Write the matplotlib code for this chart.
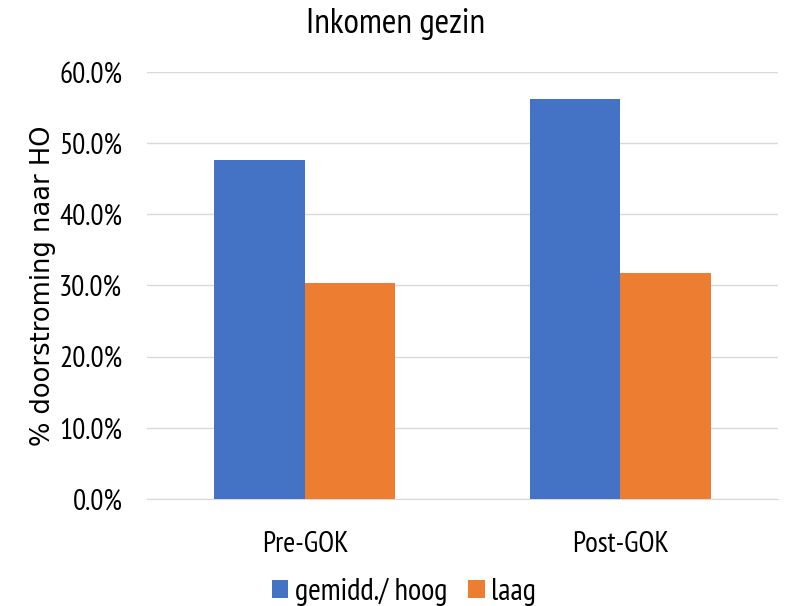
import numpy as np
import matplotlib.pyplot as plt
from matplotlib.ticker import PercentFormatter

categories = ['Pre-GOK', 'Post-GOK']
series_names = ['gemidd./ hoog', 'laag']
hoog = [47.6, 56.2]
laag = [30.4, 31.8]
colors = ['#4472C4', '#ED7D31']

narrow = ['PT Sans Narrow', 'DejaVu Sans']

fig = plt.figure(figsize=(7.92, 6.06), dpi=100)
ax = fig.add_axes([0.186, 0.177, 0.796, 0.704])

x = np.arange(len(categories))
w = 0.287
ax.bar(x - w / 2, hoog, w, color=colors[0], label=series_names[0], zorder=3)
ax.bar(x + w / 2, laag, w, color=colors[1], label=series_names[1], zorder=3)

ax.set_xlim(-0.5, 1.5)
ax.set_ylim(0, 60)
ax.set_yticks(np.arange(0, 61, 10))
ax.yaxis.set_major_formatter(PercentFormatter(decimals=1))
ax.grid(axis='y', color='#d9d9d9', linewidth=1, zorder=0)
for s in ax.spines.values():
    s.set_visible(False)
ax.spines['bottom'].set_visible(True)
ax.spines['bottom'].set_color('#d9d9d9')
ax.tick_params(length=0)
ax.tick_params(axis='y', pad=18)
ax.tick_params(axis='x', pad=23)
ax.set_xticks(x)
ax.set_xticklabels(categories, family=narrow, fontsize=21)
for t in ax.get_yticklabels():
    t.set_family(narrow)
    t.set_fontsize(21)

ax.set_ylabel('% doorstroming naar HO', fontsize=18.5, labelpad=2)
fig.text(0.5, 1 - 33 / 606, 'Inkomen gezin', family=narrow, fontsize=25.5,
         ha='center', va='baseline')

leg = fig.legend(loc='lower center', bbox_to_anchor=(0.51, -0.045), ncol=2, frameon=False,
                 prop={'family': narrow, 'size': 22}, handlelength=0.55, handleheight=0.55,
                 handletextpad=0.2, columnspacing=0.7)

fig.savefig('out.png', dpi=100)
